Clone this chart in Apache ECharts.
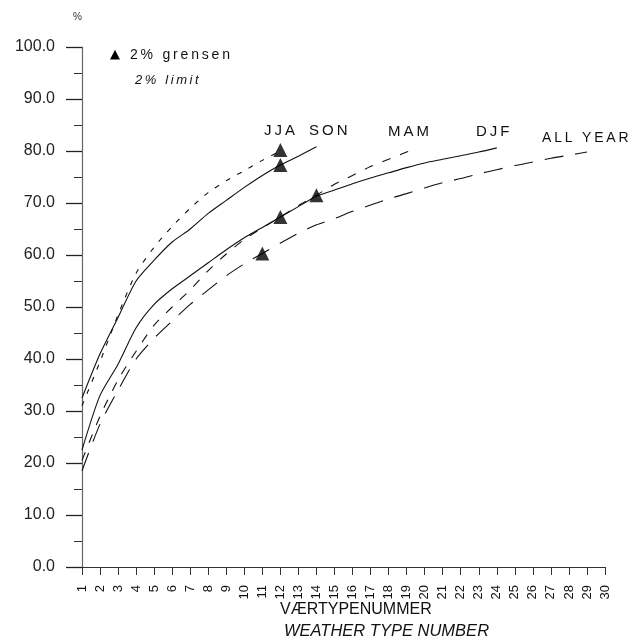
<!DOCTYPE html>
<html>
<head>
<meta charset="utf-8">
<script src="https://cdn.jsdelivr.net/npm/echarts@6/dist/echarts.min.js"></script>
<style>
html,body{margin:0;padding:0;background:#fff;}
#c{width:643px;height:641px;}
</style>
</head>
<body>
<div id="c"></div>
<script>
// ---- data ----
var jjaX = [1,2,3,4,5,6,7,8,9,10,11,12];
var jjaY = [31,39.5,48.5,56.5,61.5,65.5,69,72,74.3,76.2,78.2,80];
var sonX = [1,2,3,4,5,6,7,8,9,10,11,12,13,14];
var sonY = [32.5,41,48,55,59,62.5,65,68,70.5,73,75.3,77.3,79,80.8];
var djfX = [1,2,3,4,5,6,7,8,9,10,11,12,13,14,15,16,17,18,19,20,21,22,23,24];
var djfY = [22.5,33,39,46,50.5,53.5,56,58.5,61,63.3,65.3,67.3,69.3,71.3,72.5,73.7,74.8,75.8,76.8,77.7,78.4,79.1,79.8,80.6];
var mamX = [1,2,3,4,5,6,7,8,9,10,11,12,13,14,15,16,17,18,19,19.5];
var mamY = [20.5,29,36,41.5,46.5,50,53.3,57,60.2,63,65.2,67.3,69.5,71.5,73.6,75.3,77,78.4,79.8,80.5];
var allX = [1,2,3,4,5,6,7,8,9,10,11,12,13,14,15,16,17,18,19,20,21,22,23,24,25,26,27,28,29];
var allY = [18.5,27.5,34,40,44,47.3,50.5,53.3,56,58.3,60.3,62.3,64.2,65.8,67,68.4,69.6,70.8,71.8,72.9,73.9,74.7,75.6,76.4,77.2,77.9,78.6,79.2,79.8];
var limitX = [12,12,12,14,11];
var limitY = [80.2,77.3,67.3,71.5,60.3];
var seriesNames = ['JJA','SON','DJF','MAM','ALL YEAR'];

function pairs(xs, ys){ return xs.map(function(x,i){return [x, ys[i]];}); }
function spaced(s){ return s.split('').join('\u2009'); }

var FONT = '"Liberation Sans", Arial, Helvetica, sans-serif';
var chart = echarts.init(document.getElementById('c'), null, {renderer:'canvas'});

function lineSeries(name, xs, ys, dash){
  return {
    name: name, type: 'line', data: pairs(xs, ys), showSymbol: false, smooth: 0.25,
    lineStyle: {color: '#111', width: 1.1, type: dash},
    z: 3, silent: true
  };
}

var option = {
  animation: false,
  backgroundColor: '#fff',
  grid: {left: 82, right: 38, top: 47, bottom: 74},
  xAxis: {
    type: 'value', min: 1, max: 30, interval: 1,
    axisLine: {lineStyle: {color: '#333', width: 1.2}},
    axisTick: {show: true, length: 8, lineStyle: {color: '#333', width: 1}},
    axisLabel: {rotate: 90, fontSize: 13, color: '#111', fontFamily: FONT, margin: 18},
    splitLine: {show: false}
  },
  yAxis: {
    type: 'value', min: 0, max: 100, interval: 10,
    axisLine: {show: true, lineStyle: {color: '#666', width: 1.2}},
    axisTick: {show: true, length: 16, lineStyle: {color: '#222', width: 1.3}},
    minorTick: {show: true, splitNumber: 2, length: 8, lineStyle: {color: '#333', width: 1}},
    axisLabel: {fontSize: 16, color: '#222', fontFamily: FONT, margin: 27,
      formatter: function(v){ return v.toFixed(1); }},
    splitLine: {show: false}
  },
  series: [
    lineSeries(seriesNames[0], jjaX, jjaY, [5, 8]),
    lineSeries(seriesNames[1], sonX, sonY, 'solid'),
    lineSeries(seriesNames[2], djfX, djfY, 'solid'),
    lineSeries(seriesNames[3], mamX, mamY, [9, 10]),
    lineSeries(seriesNames[4], allX, allY, [19, 12]),
    {
      name: '2% grensen', type: 'scatter', data: pairs(limitX, limitY),
      symbol: 'triangle', symbolSize: 14, itemStyle: {color: '#000'}, z: 5, silent: true
    }
  ],
  graphic: [
    {type: 'text', left: 73, top: 12, style: {text: '%', fontSize: 10, fill: '#333', fontFamily: FONT}},
    {type: 'text', left: 110, top: 48, style: {text: '▲', fontSize: 13, fill: '#000', fontFamily: 'DejaVu Sans'}},
    {type: 'text', left: 130, top: 48, style: {text: spaced('2% grensen'), fontSize: 14, fill: '#111', fontFamily: FONT}},
    {type: 'text', left: 135, top: 74, style: {text: spaced('2% limit'), fontSize: 13, fontStyle: 'italic', fill: '#111', fontFamily: FONT}},
    {type: 'text', left: 264, top: 123, style: {text: spaced('JJA'), fontSize: 15, fill: '#111', fontFamily: FONT}},
    {type: 'text', left: 309, top: 123, style: {text: spaced('SON'), fontSize: 15, fill: '#111', fontFamily: FONT}},
    {type: 'text', left: 388, top: 124, style: {text: spaced('MAM'), fontSize: 15, fill: '#111', fontFamily: FONT}},
    {type: 'text', left: 476, top: 124, style: {text: spaced('DJF'), fontSize: 15, fill: '#111', fontFamily: FONT}},
    {type: 'text', left: 542, top: 131, style: {text: spaced('ALL YEAR'), fontSize: 14, fill: '#111', fontFamily: FONT}},
    {type: 'text', left: 280, top: 602, style: {text: 'VÆRTYPENUMMER', fontSize: 16, fill: '#111', fontFamily: FONT}},
    {type: 'text', left: 284, top: 623, style: {text: 'WEATHER TYPE NUMBER', fontSize: 16.5, fontStyle: 'italic', fill: '#111', fontFamily: FONT}}
  ]
};
chart.setOption(option);
</script>
</body>
</html>
